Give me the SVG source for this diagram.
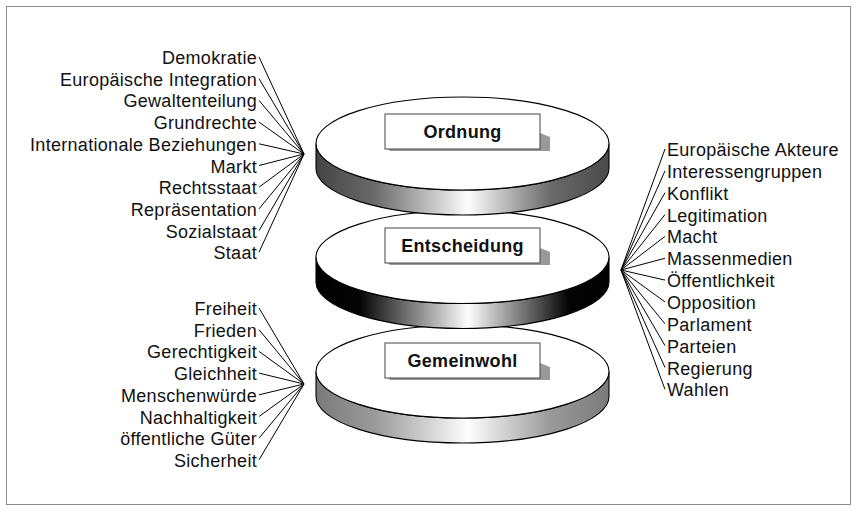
<svg xmlns="http://www.w3.org/2000/svg" width="858" height="512" viewBox="0 0 858 512">
<style>
.lbl{font-family:"Liberation Sans",Arial,sans-serif;font-size:18px;letter-spacing:0.3px;fill:#111}
.end{text-anchor:end}
.box{fill:#fff;stroke:#444;stroke-width:1}
.shadow{fill:#999}
.title{font-family:"Liberation Sans",Arial,sans-serif;font-size:18px;font-weight:bold;letter-spacing:0.3px;fill:#111;text-anchor:middle}
.top{fill:#fff;stroke:#000;stroke-width:1.1}
.band{stroke:#000;stroke-width:1.1}
.conn line{stroke:#000;stroke-width:1}
</style>
<defs>
<linearGradient id="g1" x1="316" y1="0" x2="609" y2="0" gradientUnits="userSpaceOnUse">
<stop offset="0" stop-color="#444"/><stop offset="0.2" stop-color="#6a6a6a"/><stop offset="0.52" stop-color="#fdfdfd"/><stop offset="0.8" stop-color="#6a6a6a"/><stop offset="1" stop-color="#4a4a4a"/>
</linearGradient>
<linearGradient id="g2" x1="316" y1="0" x2="609" y2="0" gradientUnits="userSpaceOnUse">
<stop offset="0" stop-color="#000"/><stop offset="0.15" stop-color="#050505"/><stop offset="0.52" stop-color="#fdfdfd"/><stop offset="0.86" stop-color="#050505"/><stop offset="1" stop-color="#000"/>
</linearGradient>
<linearGradient id="g3" x1="316" y1="0" x2="609" y2="0" gradientUnits="userSpaceOnUse">
<stop offset="0" stop-color="#7a7a7a"/><stop offset="0.2" stop-color="#9a9a9a"/><stop offset="0.52" stop-color="#fdfdfd"/><stop offset="0.8" stop-color="#9a9a9a"/><stop offset="1" stop-color="#7a7a7a"/>
</linearGradient>
</defs>
<rect x="6.5" y="6.5" width="844" height="498" fill="#fff" stroke="#8c8c8c" stroke-width="1"/>

<g id="gemeinwohl">
<path class="band" fill="url(#g3)" d="M316,371.5 A146.5,46.5 0 0 0 609,371.5 V396.5 A146.5,46.5 0 0 1 316,396.5 Z"/>
<ellipse class="top" cx="462.5" cy="371.5" rx="146.5" ry="46.5"/>
<polygon class="shadow" points="540,363 550,367 550,380 390,380 388,378 540,378"/>
<rect class="box" x="385" y="343" width="155" height="35"/>
<text class="title" x="462.5" y="366.5">Gemeinwohl</text>
</g>

<g id="entscheidung">
<path class="band" fill="url(#g2)" d="M316,257 A146.5,46.5 0 0 0 609,257 V282 A146.5,46.5 0 0 1 316,282 Z"/>
<ellipse class="top" cx="462.5" cy="257" rx="146.5" ry="46.5"/>
<polygon class="shadow" points="540,248 550,252 550,265 390,265 388,263 540,263"/>
<rect class="box" x="385" y="228" width="155" height="35"/>
<text class="title" x="462.5" y="251.5">Entscheidung</text>
</g>

<g id="ordnung">
<path class="band" fill="url(#g1)" d="M316,143.5 A146.5,46.5 0 0 0 609,143.5 V168.5 A146.5,46.5 0 0 1 316,168.5 Z"/>
<ellipse class="top" cx="462.5" cy="143.5" rx="146.5" ry="46.5"/>
<polygon class="shadow" points="540,133 550,137 550,151 390,151 388,149 540,149"/>
<rect class="box" x="385" y="114" width="155" height="35"/>
<text class="title" x="462.5" y="137.5">Ordnung</text>
</g>

<g id="connectors" class="conn">
<line x1="259" y1="57" x2="304" y2="154"/>
<line x1="259" y1="78.7" x2="304" y2="154"/>
<line x1="259" y1="100.4" x2="304" y2="154"/>
<line x1="259" y1="122.1" x2="304" y2="154"/>
<line x1="259" y1="143.8" x2="304" y2="154"/>
<line x1="259" y1="165.5" x2="304" y2="154"/>
<line x1="259" y1="187.2" x2="304" y2="154"/>
<line x1="259" y1="208.9" x2="304" y2="154"/>
<line x1="259" y1="230.6" x2="304" y2="154"/>
<line x1="259" y1="252.3" x2="304" y2="154"/>

<line x1="259" y1="308" x2="304" y2="384"/>
<line x1="259" y1="329.7" x2="304" y2="384"/>
<line x1="259" y1="351.4" x2="304" y2="384"/>
<line x1="259" y1="373.1" x2="304" y2="384"/>
<line x1="259" y1="394.8" x2="304" y2="384"/>
<line x1="259" y1="416.5" x2="304" y2="384"/>
<line x1="259" y1="438.2" x2="304" y2="384"/>
<line x1="259" y1="459.9" x2="304" y2="384"/>

<line x1="621" y1="270" x2="665" y2="149"/>
<line x1="621" y1="270" x2="665" y2="170.85"/>
<line x1="621" y1="270" x2="665" y2="192.7"/>
<line x1="621" y1="270" x2="665" y2="214.55"/>
<line x1="621" y1="270" x2="665" y2="236.4"/>
<line x1="621" y1="270" x2="665" y2="258.25"/>
<line x1="621" y1="270" x2="665" y2="280.1"/>
<line x1="621" y1="270" x2="665" y2="301.95"/>
<line x1="621" y1="270" x2="665" y2="323.8"/>
<line x1="621" y1="270" x2="665" y2="345.65"/>
<line x1="621" y1="270" x2="665" y2="367.5"/>
<line x1="621" y1="270" x2="665" y2="389.35"/>
</g>

<g id="ordnung-labels" class="lbl end">
<text x="257" y="64">Demokratie</text>
<text x="257" y="85.7">Europäische Integration</text>
<text x="257" y="107.4">Gewaltenteilung</text>
<text x="257" y="129.1">Grundrechte</text>
<text x="257" y="150.8">Internationale Beziehungen</text>
<text x="257" y="172.5">Markt</text>
<text x="257" y="194.2">Rechtsstaat</text>
<text x="257" y="215.9">Repräsentation</text>
<text x="257" y="237.6">Sozialstaat</text>
<text x="257" y="259.3">Staat</text>
</g>

<g id="gemeinwohl-labels" class="lbl end">
<text x="257" y="315">Freiheit</text>
<text x="257" y="336.7">Frieden</text>
<text x="257" y="358.4">Gerechtigkeit</text>
<text x="257" y="380.1">Gleichheit</text>
<text x="257" y="401.8">Menschenwürde</text>
<text x="257" y="423.5">Nachhaltigkeit</text>
<text x="257" y="445.2">öffentliche Güter</text>
<text x="257" y="466.9">Sicherheit</text>
</g>

<g id="entscheidung-labels" class="lbl">
<text x="667" y="156">Europäische Akteure</text>
<text x="667" y="177.85">Interessengruppen</text>
<text x="667" y="199.7">Konflikt</text>
<text x="667" y="221.55">Legitimation</text>
<text x="667" y="243.4">Macht</text>
<text x="667" y="265.25">Massenmedien</text>
<text x="667" y="287.1">Öffentlichkeit</text>
<text x="667" y="308.95">Opposition</text>
<text x="667" y="330.8">Parlament</text>
<text x="667" y="352.65">Parteien</text>
<text x="667" y="374.5">Regierung</text>
<text x="667" y="396.35">Wahlen</text>
</g>
</svg>
